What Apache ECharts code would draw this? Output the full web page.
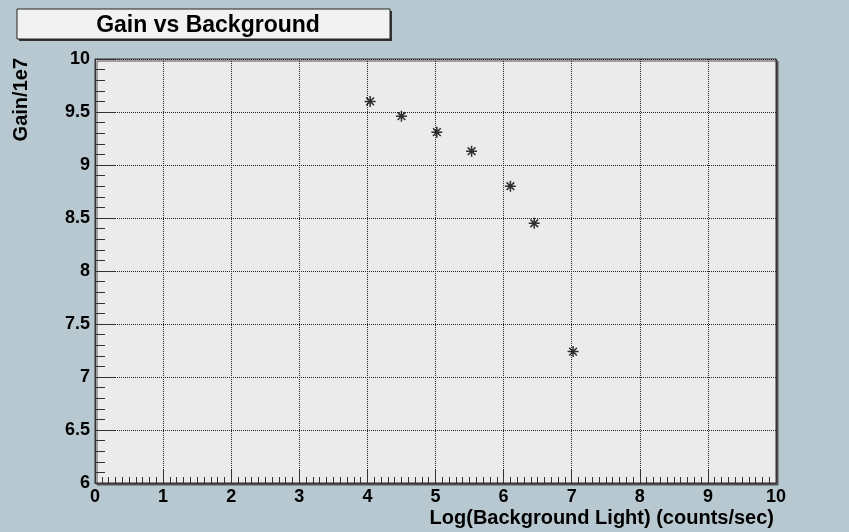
<!DOCTYPE html>
<html>
<head>
<meta charset="utf-8">
<script src="https://cdn.jsdelivr.net/npm/echarts@6/dist/echarts.min.js"></script>
<style>
  html, body { margin: 0; padding: 0; background: #b8c8d0; }
  #chartGain { width: 849px; height: 532px; }
</style>
</head>
<body>
<div id="chartGain"></div>
<script>
// 横坐标: Log(背景光)，纵坐标: 增益/1e7
const xValues = [4.04, 4.50, 5.02, 5.53, 6.10, 6.45, 7.02];
const yValues = [9.60, 9.46, 9.31, 9.13, 8.80, 8.45, 7.24];
const xTicks = [0, 1, 2, 3, 4, 5, 6, 7, 8, 9, 10];
const yTicks = [6, 6.5, 7, 7.5, 8, 8.5, 9, 9.5, 10];

const points = xValues.map((x, i) => [x, yValues[i]]);
const fontFamily = "'Liberation Sans', Arial, sans-serif";

const myChart = echarts.init(document.getElementById("chartGain"));
const option = {
  backgroundColor: "#b8c8d0",
  animation: false,
  title: {
    text: "Gain vs Background",
    left: 203,
    top: 9,
    textAlign: "center",
    textStyle: { fontFamily, fontWeight: "bold", fontSize: 23, color: "#000" },
  },
  graphic: [
    // 标题框及阴影
    { type: "rect", z: -1, shape: { x: 19, y: 11, width: 373, height: 30 }, style: { fill: "#333" } },
    { type: "rect", z: -1, shape: { x: 17, y: 9, width: 373, height: 30 }, style: { fill: "#f2f2f2", stroke: "#222", lineWidth: 1 } },
    // 纵轴标题
    {
      type: "text",
      x: 21,
      y: 58,
      rotation: Math.PI / 2,
      style: {
        text: "Gain/1e7",
        align: "right",
        verticalAlign: "middle",
        font: "bold 20px 'Liberation Sans', Arial, sans-serif",
        fill: "#000",
      },
    },
  ],
  grid: {
    left: 95,
    right: 73,
    top: 59,
    bottom: 49,
    show: true,
    backgroundColor: "#ebebeb",
    borderColor: "#333",
    borderWidth: 1,
    shadowColor: "#555",
    shadowOffsetX: 2,
    shadowOffsetY: 2,
    shadowBlur: 0,
  },
  xAxis: {
    type: "value",
    min: xTicks[0],
    max: xTicks[xTicks.length - 1],
    interval: 1,
    name: "Log(Background Light) (counts/sec)",
    nameLocation: "end",
    nameGap: -2,
    nameTextStyle: {
      fontFamily, fontWeight: "bold", fontSize: 20, color: "#000",
      align: "right", verticalAlign: "top", padding: [25, 0, 0, 0],
    },
    axisLine: { show: true, onZero: false, lineStyle: { color: "#333", width: 1 } },
    axisTick: { show: true, inside: true, length: 13, lineStyle: { color: "#333" } },
    minorTick: { show: true, splitNumber: 10, length: 6, lineStyle: { color: "#333" } },
    axisLabel: {
      fontFamily, fontWeight: "bold", fontSize: 18, color: "#000", margin: 5,
      showMinLabel: true, showMaxLabel: true,
    },
    splitLine: { show: true, lineStyle: { color: "#222", type: "dotted", width: 1 } },
  },
  yAxis: {
    type: "value",
    min: yTicks[0],
    max: yTicks[yTicks.length - 1],
    interval: 0.5,
    axisLine: { show: true, onZero: false, lineStyle: { color: "#333", width: 1 } },
    axisTick: { show: true, inside: true, length: 20, lineStyle: { color: "#333" } },
    minorTick: { show: true, splitNumber: 5, length: 10, lineStyle: { color: "#333" } },
    axisLabel: {
      fontFamily, fontWeight: "bold", fontSize: 18, color: "#000", margin: 5,
      showMinLabel: true, showMaxLabel: true,
      formatter: (v) => String(v),
    },
    splitLine: { show: true, lineStyle: { color: "#222", type: "dotted", width: 1 } },
  },
  series: [
    {
      type: "scatter",
      data: points,
      // 星号标记
      symbol: "path://M-1,0L1,0M0,-1L0,1M-0.7,-0.7L0.7,0.7M-0.7,0.7L0.7,-0.7",
      symbolSize: 11,
      itemStyle: { color: "transparent", borderColor: "#000", borderWidth: 1.5 },
    },
  ],
};
myChart.setOption(option);
</script>
</body>
</html>
